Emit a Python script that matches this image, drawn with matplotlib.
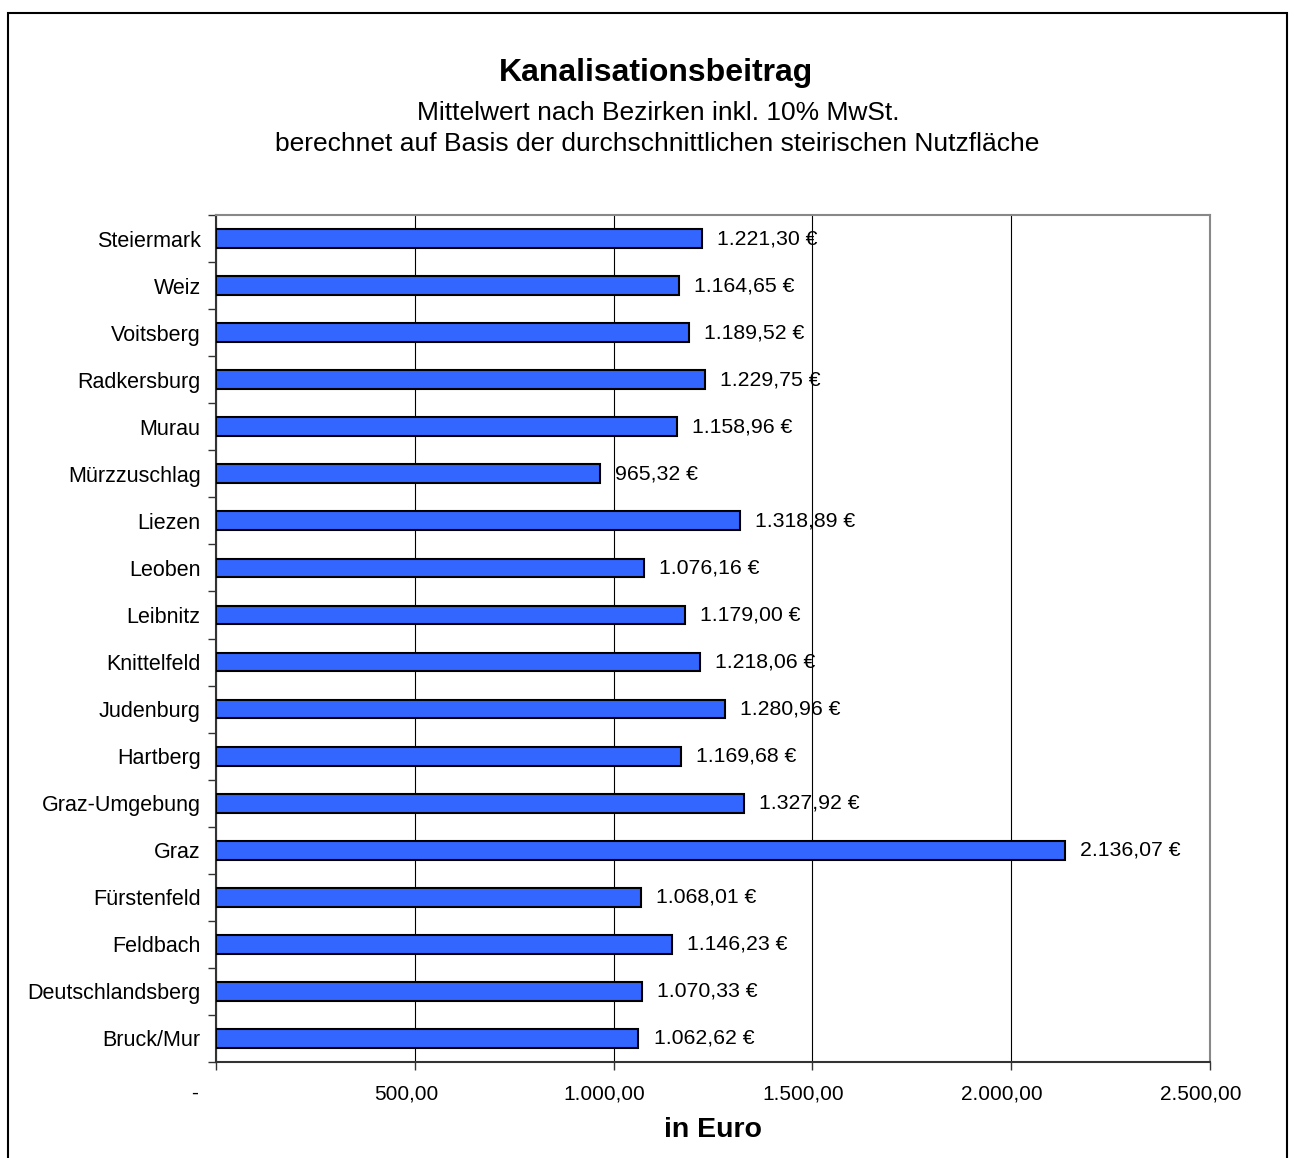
import matplotlib
matplotlib.use("Agg")
import matplotlib.pyplot as plt
import matplotlib.transforms as mtransforms
from matplotlib.patches import Rectangle
from matplotlib.ticker import FixedLocator, FuncFormatter
import numpy as np

plt.rcParams['font.family'] = ['Liberation Sans', 'DejaVu Sans']

districts = ["Bruck/Mur", "Deutschlandsberg", "Feldbach", "Fürstenfeld", "Graz",
             "Graz-Umgebung", "Hartberg", "Judenburg", "Knittelfeld", "Leibnitz",
             "Leoben", "Liezen", "Mürzzuschlag", "Murau", "Radkersburg",
             "Voitsberg", "Weiz", "Steiermark"]
values = [1062.62, 1070.33, 1146.23, 1068.01, 2136.07,
          1327.92, 1169.68, 1280.96, 1218.06, 1179.00,
          1076.16, 1318.89, 965.32, 1158.96, 1229.75,
          1189.52, 1164.65, 1221.30]
xticks = [0, 500, 1000, 1500, 2000, 2500]

def de_fmt(v):
    s = f"{v:,.2f}"
    return s.replace(",", "X").replace(".", ",").replace("X", ".")

fig = plt.figure(figsize=(12.94, 11.58), dpi=100)
# figure border
fig.patches.append(Rectangle((8/1294, -0.05), (1287-8)/1294, 1.05 - 13/1158,
                             transform=fig.transFigure, fill=False,
                             edgecolor='black', linewidth=1.5))

ax = fig.add_axes([216/1294, 1-1062/1158, (1210-216)/1294, (1062-215)/1158])
y = np.arange(len(districts))
ax.barh(y, values, height=0.4, color='#3366FF', edgecolor='black', linewidth=1.5, zorder=3)
for yi, v in zip(y, values):
    ax.text(v + 38, yi, de_fmt(v) + " €", va='center', ha='left', fontsize=15.3, zorder=4)

ax.set_xlim(0, 2500)
ax.set_ylim(-0.5, len(districts) - 0.5)
ax.set_xticks(xticks)
ax.xaxis.set_major_formatter(FuncFormatter(lambda v, p: "-" if v == 0 else de_fmt(v)))
ax.tick_params(axis='x', length=6, width=1, color='#333333', labelsize=15, pad=10)
ax.set_yticks(y)
ax.set_yticklabels(districts)
ax.tick_params(axis='y', which='major', length=0, labelsize=15.5, pad=11)
ax.yaxis.set_minor_locator(FixedLocator(np.arange(-0.5, len(districts), 1)))
ax.tick_params(axis='y', which='minor', length=6, width=1, color='#333333')
ax.grid(axis='x', color='black', linewidth=0.8, zorder=0)
ax.spines['left'].set_color('#333333')
ax.spines['bottom'].set_color('#333333')
ax.spines['left'].set_linewidth(1.5)
ax.spines['bottom'].set_linewidth(1.5)
ax.spines['top'].set_color('#888888')
ax.spines['right'].set_color('#888888')
ax.spines['top'].set_linewidth(1.5)
ax.spines['right'].set_linewidth(1.5)
ax.set_xlabel("in Euro", fontsize=20.5, fontweight='bold', labelpad=10)

# shift x tick labels slightly left like the original
for i, lab in enumerate(ax.get_xticklabels()):
    dx = -21 if i == 0 else -9
    lab.set_transform(lab.get_transform() + mtransforms.ScaledTranslation(dx/100, 0, fig.dpi_scale_trans))

fig.text(656/1294, 1-73/1158, "Kanalisationsbeitrag", ha='center', va='center',
         fontsize=23, fontweight='bold')
fig.text(658/1294, 1-113/1158, "Mittelwert nach Bezirken inkl. 10% MwSt.", ha='center',
         va='center', fontsize=19)
fig.text(657/1294, 1-144/1158, "berechnet auf Basis der durchschnittlichen steirischen Nutzfläche",
         ha='center', va='center', fontsize=19)

fig.savefig("out.png", dpi=100)
